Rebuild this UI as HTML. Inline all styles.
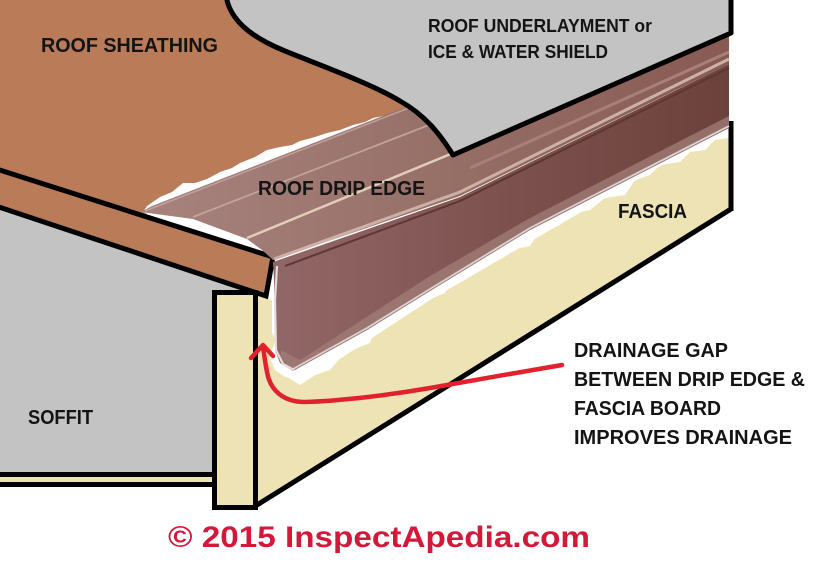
<!DOCTYPE html>
<html>
<head>
<meta charset="utf-8">
<style>
html,body{margin:0;padding:0;background:#fff;}
svg{display:block;}
text{font-family:"Liberation Sans",Arial,sans-serif;font-weight:bold;}
</style>
</head>
<body>
<svg width="829" height="569" viewBox="0 0 829 569" xmlns="http://www.w3.org/2000/svg">
<defs>
<linearGradient id="fl" gradientUnits="userSpaceOnUse" x1="140" y1="0" x2="730" y2="0">
<stop offset="0" stop-color="#a8827e"/><stop offset="0.5" stop-color="#977068"/><stop offset="1" stop-color="#875a52"/>
</linearGradient>
<linearGradient id="fc" gradientUnits="userSpaceOnUse" x1="275" y1="0" x2="730" y2="0">
<stop offset="0" stop-color="#926767"/><stop offset="0.5" stop-color="#7d514e"/><stop offset="1" stop-color="#6c413b"/>
</linearGradient>
</defs>
<rect width="829" height="569" fill="#fff"/>

<!-- roof sheathing top surface -->
<polygon points="0,0 300,0 480,150 150,215 0,172" fill="#b97b58"/>

<!-- white cutout above drip edge flange -->
<polygon points="143,212 147,206 160,197 172,192 183,183 195,183 207,179 220,172 232,168 240,163 255,157 267,150 280,147 292,145 300,141 315,137 327,133 340,130 353,125 365,122 373,118 388,115 405,110 420,110 420,130 150,215" fill="#fff"/>

<!-- soffit -->
<polygon points="-5,190 280,280 280,300 212,300 212,475 -5,475" fill="#c3c3c3"/>

<!-- white bits under flange tip -->
<polygon points="147,212 193,218 230,230 247,238 262,248 273,257 262,253 230,237 190,226 160,222 147,216" fill="#fff"/>

<!-- fascia side -->
<polygon points="256,290 279,290 279,372 300,385 430,300 731,125 731,209 257,505" fill="#eee3b4"/>

<!-- white gap between drip edge and fascia -->
<polygon points="275,340 295,362 430,285 729,120 729,138 715,140 705,150 690,152 680,162 660,165 650,175 635,180 625,195 605,198 590,210 570,214 560,225 540,230 530,246 515,249 500,257 485,261 475,273 455,278 445,293 430,299 415,310 400,314 390,324 375,329 370,343 355,349 340,358 330,370 315,375 300,380 285,377 275,370 270,358" fill="#fff"/>

<!-- white near face left edge -->
<polygon points="266,252 290,254 290,300 279,310 277,345 272,332 272,300 262,297" fill="#fff"/>

<!-- sheathing edge band -->
<polygon points="-10,167 273,257 266,296 -10,204" fill="#b97b58" stroke="#000" stroke-width="5" stroke-linejoin="miter"/>

<!-- soffit bottom trim -->
<rect x="0" y="472" width="214" height="5" fill="#000"/>
<rect x="0" y="477" width="214" height="5" fill="#eee3b4"/>
<rect x="0" y="482" width="214" height="5" fill="#000"/>

<!-- front fascia board -->
<rect x="214.5" y="292.5" width="41" height="215" fill="#eee3b4" stroke="#000" stroke-width="5"/>

<!-- fascia outline -->
<line x1="257" y1="505" x2="731" y2="209" stroke="#000" stroke-width="5"/>
<line x1="731" y1="121" x2="731" y2="211" stroke="#000" stroke-width="5"/>

<!-- drip edge flange -->
<polygon points="141,212 152,206 470,82 729,-30 729,64 460,196 273,260 262,250 247,239 193,219" fill="url(#fl)"/>
<!-- flange ridge lines -->
<line x1="145" y1="211" x2="470" y2="84" stroke="#bfa09b" stroke-width="1.5"/>
<line x1="193" y1="217" x2="470" y2="109" stroke="#c3a39d" stroke-width="1.8"/>
<line x1="247" y1="238" x2="470" y2="146" stroke="#e2cdb9" stroke-width="2.5"/>
<polyline points="470,168 600,110 729,52" fill="none" stroke="#a8807a" stroke-width="3"/>

<!-- drip edge face -->
<polygon points="273,262 460,197 729,64 729,128 530,230 430,291 367,330 293,371 280,363 275,350 274,280" fill="url(#fc)"/>
<!-- bend highlight and ridge -->
<polyline points="274,259 460,192 729,59" fill="none" stroke="#cdb0a8" stroke-width="3"/>
<polyline points="285,266 460,201 729,68" fill="none" stroke="#5e3633" stroke-width="2"/>
<!-- lower lip band -->
<polygon points="281,350 300,360 430,276 530,218 729,116 729,128 530,230 430,291 367,330 293,371 280,363" fill="#a27d78" opacity="0.75"/>
<polyline points="293,369 367,328 430,289 530,228 729,126" fill="none" stroke="#ddd2d0" stroke-width="1.8"/>
<!-- face left edge highlight -->
<polyline points="277,266 275,300 276,350 283,364 294,370" fill="none" stroke="#e4dcdc" stroke-width="2.2"/>

<!-- underlayment -->
<path d="M226,-5 C229,18 248,36 285,51 C322,66 372,84 400,101 C425,115 440,134 453,155 L731,33 L731,-5 Z" fill="#c3c3c3" stroke="#000" stroke-width="5" stroke-linejoin="round"/>

<!-- labels -->
<g fill="#141414">
<text x="41" y="52" font-size="20.5" textLength="177" lengthAdjust="spacingAndGlyphs">ROOF SHEATHING</text>
<text x="428" y="32" font-size="18.5" textLength="224" lengthAdjust="spacingAndGlyphs">ROOF UNDERLAYMENT or</text>
<text x="428" y="58" font-size="18.5" textLength="180" lengthAdjust="spacingAndGlyphs">ICE &amp; WATER SHIELD</text>
<text x="258" y="195" font-size="20.5" textLength="167" lengthAdjust="spacingAndGlyphs">ROOF DRIP EDGE</text>
<text x="618" y="218" font-size="20.5" textLength="69" lengthAdjust="spacingAndGlyphs">FASCIA</text>
<text x="28" y="424" font-size="20" textLength="65" lengthAdjust="spacingAndGlyphs">SOFFIT</text>
<text x="574" y="357" font-size="20" textLength="154" lengthAdjust="spacingAndGlyphs">DRAINAGE GAP</text>
<text x="574" y="386" font-size="20" textLength="231" lengthAdjust="spacingAndGlyphs">BETWEEN DRIP EDGE &amp;</text>
<text x="574" y="415" font-size="20" textLength="147" lengthAdjust="spacingAndGlyphs">FASCIA BOARD</text>
<text x="574" y="444" font-size="20" textLength="218" lengthAdjust="spacingAndGlyphs">IMPROVES DRAINAGE</text>
</g>

<!-- red arrow -->
<path d="M562,365 C520,372 470,381 430,388 C390,395 340,401 305,402 C283,402 270,390 267,372 C265,362 264,353 263,347" fill="none" stroke="#e1222c" stroke-width="4.5" stroke-linecap="round"/>
<path d="M251,358 L263,345 L273,356" fill="none" stroke="#e1222c" stroke-width="4.5" stroke-linecap="round" stroke-linejoin="round"/>

<!-- copyright -->
<text x="168" y="547" font-size="30" fill="#d4183a" textLength="422" lengthAdjust="spacingAndGlyphs">© 2015 InspectApedia.com</text>
</svg>
</body>
</html>
